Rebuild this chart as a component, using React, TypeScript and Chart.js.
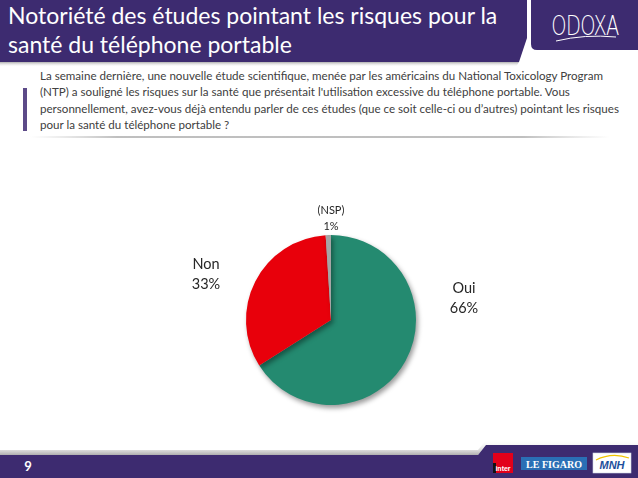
import React, { useEffect, useRef } from "react";
import { Chart, registerables } from "chart.js";

Chart.register(...registerables);

const categories = ["Oui", "Non", "(NSP)"];
const values = [66, 33, 1];
const sliceColors = ["#248a70", "#e8000b", "#a5a5a5"];
const valueLabels = ["66%", "33%", "1%"];

const TITLE = ["Notoriété des études pointant les risques pour la", "santé du téléphone portable"];
const QUESTION = [
  "La semaine dernière, une nouvelle étude scientifique, menée par les américains du National Toxicology Program",
  "(NTP) a souligné les risques sur la santé que présentait l'utilisation excessive du téléphone portable. Vous",
  "personnellement, avez-vous déjà entendu parler de ces études (que ce soit celle-ci ou d’autres) pointant les risques",
  "pour la santé du téléphone portable ?",
];

const PURPLE = "#3d2b70";
const FONT = "Lato, 'Open Sans', sans-serif";

const shadowPlugin = {
  id: "pieShadow",
  beforeDatasetsDraw(chart: any) {
    const ctx = chart.ctx;
    ctx.save();
    ctx.shadowColor = "rgba(0,0,0,0.4)";
    ctx.shadowBlur = 5;
    ctx.shadowOffsetX = 2;
    ctx.shadowOffsetY = 3;
  },
  afterDatasetsDraw(chart: any) {
    chart.ctx.restore();
  },
};

function PieChart() {
  const ref = useRef<HTMLCanvasElement>(null);
  useEffect(() => {
    if (!ref.current) return;
    const chart = new Chart(ref.current, {
      type: "pie",
      data: {
        labels: categories,
        datasets: [
          {
            data: values,
            backgroundColor: sliceColors,
            borderWidth: 0,
          },
        ],
      },
      options: {
        animation: false,
        responsive: false,
        maintainAspectRatio: false,
        rotation: 0,
        layout: { padding: 15 },
        plugins: { legend: { display: false }, tooltip: { enabled: false } },
      },
      plugins: [shadowPlugin],
    });
    return () => chart.destroy();
  }, []);
  return <canvas ref={ref} width={200} height={200} style={{ width: 200, height: 200 }} />;
}

const labelPos = [
  { left: 464, top: 278, size: 14.5 },
  { left: 206, top: 254, size: 14.5 },
  { left: 331, top: 202, size: 11 },
];

export default function App() {
  return (
    <div
      style={{
        position: "fixed",
        left: 0,
        top: 0,
        width: 638,
        height: 478,
        background: "#ffffff",
        overflow: "hidden",
        fontFamily: FONT,
      }}
    >
      <svg width={638} height={478} style={{ position: "absolute", left: 0, top: 0 }}>
        <defs>
          <linearGradient id="sh" x1="0" y1="0" x2="0" y2="1">
            <stop offset="0" stopColor="#9a9a9a" stopOpacity="0.8" />
            <stop offset="1" stopColor="#ffffff" stopOpacity="0" />
          </linearGradient>
          <linearGradient id="qsh" x1="0" y1="0" x2="1" y2="0">
            <stop offset="0" stopColor="#c8c8c8" stopOpacity="0" />
            <stop offset="0.15" stopColor="#b8b8b8" stopOpacity="0.9" />
            <stop offset="0.85" stopColor="#b8b8b8" stopOpacity="0.9" />
            <stop offset="1" stopColor="#c8c8c8" stopOpacity="0" />
          </linearGradient>
          <linearGradient id="fsh" x1="0" y1="1" x2="0" y2="0">
            <stop offset="0" stopColor="#9a9a9a" stopOpacity="0.8" />
            <stop offset="1" stopColor="#ffffff" stopOpacity="0" />
          </linearGradient>
        </defs>
        <polygon points="0,62 519,62 516,67 0,67" fill="url(#sh)" />
        <polygon points="0,0 527,0 527,38 519,62 0,62" fill={PURPLE} />
        <path d="M531,0 L638,0 L638,50 L537,50 Q531,50 531,44 Z" fill={PURPLE} />
        <rect x={23} y={88} width={4} height={43} fill="#5c4a88" />
        <rect x={30} y={136} width={580} height={2} fill="url(#qsh)" />
        <polygon points="0,450 478,450 486,440 638,440 638,445 486,445 478,455 0,455" fill="url(#fsh)" />
        <polygon points="0,455 478,455 486,445 638,445 638,478 0,478" fill={PURPLE} />
        <rect x={493} y={453} width={20} height={20} fill="#e2001a" />
        <rect x={493} y={463} width={3} height={10} fill="#111" />
        <text x={503} y={471} fontSize={7} fill="#ffffff" fontWeight="bold" textAnchor="middle" fontFamily="Liberation Sans">
          inter
        </text>
        <rect x={521} y={457} width={66} height={13} fill="#2a6fb5" />
        <text x={554} y={467.5} fontSize={10} fill="#ffffff" fontWeight="bold" textAnchor="middle" fontFamily="Liberation Serif">
          LE FIGARO
        </text>
        <rect x={593} y={453} width={38} height={20} fill="#ffffff" stroke="#cfd6e6" strokeWidth={0.6} />
        <path d="M596,460 Q612,452 629,458" stroke="#f2c400" strokeWidth={1.2} fill="none" />
        <text x={612} y={469} fontSize={11} fill="#1d4f9c" fontWeight="bold" fontStyle="italic" textAnchor="middle" fontFamily="Liberation Sans">
          MNH
        </text>
        <text
          x={585}
          y={35}
          fontSize={27}
          fill="#ffffff"
          textAnchor="middle"
          fontFamily="'DejaVu Sans', sans-serif"
          fontWeight={200}
          transform="translate(585 0) scale(0.72 1) translate(-585 0)"
          style={{ letterSpacing: "-1px" }}
        >
          ODOXA
        </text>
        <path d="M556,41 Q585,34 616,37" stroke="#ffffff" strokeWidth={1} fill="none" />
        <text x={28} y={471} fontSize={13} fill="#ffffff" fontWeight="bold" textAnchor="middle" fontFamily={FONT}>
          9
        </text>
      </svg>

      <div
        style={{
          position: "absolute",
          left: 8,
          top: 1,
          color: "#ffffff",
          fontSize: 23,
          lineHeight: "29px",
          whiteSpace: "nowrap",
        }}
      >
        {TITLE.map((t, i) => (
          <div key={i}>{t}</div>
        ))}
      </div>

      <div
        style={{
          position: "absolute",
          left: 40,
          top: 68,
          color: "#404040",
          fontSize: 11.6,
          lineHeight: "16.4px",
          whiteSpace: "nowrap",
        }}
      >
        {QUESTION.map((t, i) => (
          <div key={i}>{t}</div>
        ))}
      </div>

      <div style={{ position: "absolute", left: 231, top: 220, width: 200, height: 200 }}>
        <PieChart />
      </div>

      {categories.map((c, i) => (
        <div
          key={c}
          style={{
            position: "absolute",
            left: labelPos[i].left - 40,
            top: labelPos[i].top,
            width: 80,
            textAlign: "center",
            color: "#262626",
            fontSize: labelPos[i].size,
            lineHeight: labelPos[i].size > 12 ? "20px" : "16px",
          }}
        >
          <div>{c}</div>
          <div>{valueLabels[i]}</div>
        </div>
      ))}
    </div>
  );
}
